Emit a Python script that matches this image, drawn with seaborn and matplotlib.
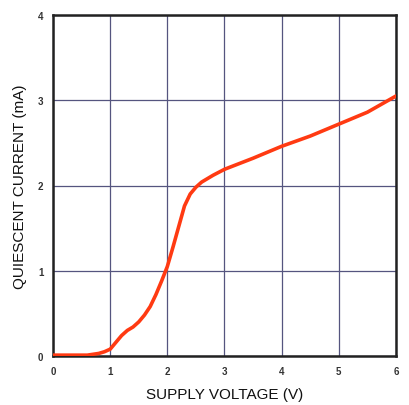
import numpy as np
import pandas as pd
import matplotlib
matplotlib.use("Agg")
import matplotlib.pyplot as plt
import seaborn as sns

supply_v = [0, 0.3, 0.6, 0.8, 0.9, 1.0, 1.1, 1.2, 1.3, 1.4, 1.5, 1.6, 1.7, 1.8, 1.9,
            2.0, 2.1, 2.2, 2.3, 2.4, 2.5, 2.6, 2.8, 3.0, 3.5, 4.0, 4.5, 5.0, 5.5, 6.0]
quiescent_ma = [0.01, 0.01, 0.01, 0.03, 0.05, 0.08, 0.16, 0.24, 0.30, 0.34, 0.40, 0.48, 0.58, 0.72, 0.88,
                1.05, 1.28, 1.52, 1.76, 1.90, 1.98, 2.04, 2.12, 2.19, 2.32, 2.46, 2.58, 2.72, 2.86, 3.05]
x_ticks = [0, 1, 2, 3, 4, 5, 6]
y_ticks = [0, 1, 2, 3, 4]

df = pd.DataFrame({"v": supply_v, "i": quiescent_ma})

sns.set_style("white")
plt.rcParams['font.family'] = ['Liberation Sans', 'DejaVu Sans']

fig = plt.figure(figsize=(4.1, 4.06), dpi=100)
ax = fig.add_axes([53 / 410, 49 / 406, 343 / 410, 341 / 406])

sns.lineplot(data=df, x="v", y="i", color="#ff3a12", linewidth=2.6, ax=ax, zorder=3)

ax.set_xlim(0, 6)
ax.set_ylim(0, 4)
ax.set_xticks(x_ticks)
ax.set_yticks(y_ticks)
ax.grid(True, color="#55557f", linewidth=0.9)
for s in ax.spines.values():
    s.set_color("#222222")
    s.set_linewidth(1.8)
ax.tick_params(length=0, labelsize=7, pad=7)
for lab in ax.get_xticklabels() + ax.get_yticklabels():
    lab.set_fontweight("bold")
    lab.set_color("#333333")
ax.set_xlabel("SUPPLY VOLTAGE (V)", fontsize=11, labelpad=8, color="#111111")
ax.set_ylabel("QUIESCENT CURRENT (mA)", fontsize=11, labelpad=8, color="#111111")

plt.savefig("out.png", dpi=100)
